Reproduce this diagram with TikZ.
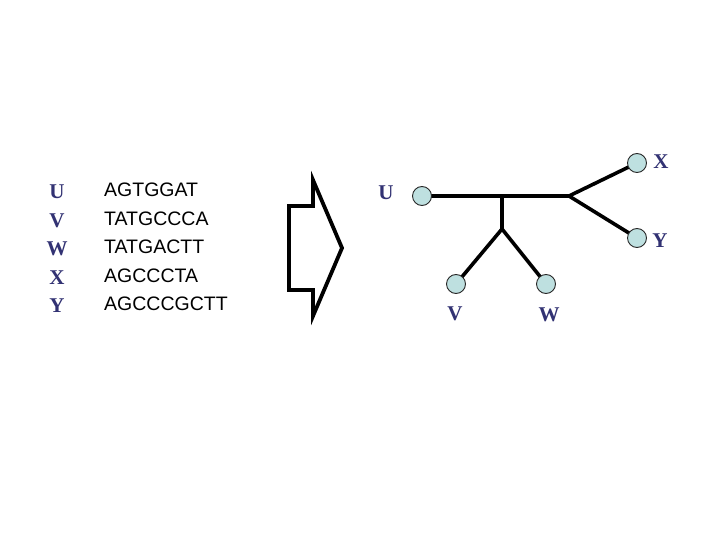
\documentclass[tikz,border=0pt]{standalone}
\usepackage{fontspec}
\setmainfont{Liberation Serif}
\setsansfont{Liberation Sans}
\begin{document}
\begin{tikzpicture}[x=1pt,y=-1pt,
  lbl/.style={font=\fontsize{21}{21}\selectfont\bfseries\rmfamily, text=navy, inner sep=0pt, anchor=center},
  seq/.style={font=\fontsize{19.5}{19.5}\selectfont\sffamily, text=black, inner sep=0pt, anchor=west},
  leaf/.style={circle, draw=leafline, fill=leaffill, line width=0.9pt, minimum size=19pt, inner sep=0pt},
  branch/.style={line width=3.6pt, draw=black}]
\definecolor{navy}{RGB}{50,50,115}
\definecolor{leaffill}{RGB}{190,224,224}
\definecolor{leafline}{RGB}{40,40,40}
\useasboundingbox (0,0) rectangle (720,540);
\fill[white] (0,0) rectangle (720,540);
% left table
\node[lbl] (lU) at (57,192) {U};
\node[lbl] (lV) at (57,220.5) {V};
\node[lbl] (lW) at (57,249) {W};
\node[lbl] (lX) at (57,277.5) {X};
\node[lbl] (lY) at (57,306) {Y};
\node[seq] (sU) at (104,190) {AGTGGAT};
\node[seq] (sV) at (104,218.5) {TATGCCCA};
\node[seq] (sW) at (104,247) {TATGACTT};
\node[seq] (sX) at (104,275.5) {AGCCCTA};
\node[seq] (sY) at (104,304) {AGCCCGCTT};
% big arrow
\draw[line width=3.8pt, line join=miter, miter limit=10]
  (289,206) -- (313,206) -- (313,180) -- (342,248) -- (313,316) -- (313,290) -- (289,290) -- cycle;
% tree
\coordinate (j1) at (502,196);
\coordinate (j2) at (502,229);
\coordinate (j3) at (569,196);
\coordinate (pU) at (422,196);
\coordinate (pV) at (456,284);
\coordinate (pW) at (546,284);
\coordinate (pX) at (637,163);
\coordinate (pY) at (637,238);
\draw[branch] (pU) -- (j3);
\draw[branch] (j1) -- (j2);
\draw[branch] (j2) -- (pV);
\draw[branch] (j2) -- (pW);
\draw[branch] (j3) -- (pX);
\draw[branch] (j3) -- (pY);
\node[leaf] (cU) at (pU) {};
\node[leaf] (cV) at (pV) {};
\node[leaf] (cW) at (pW) {};
\node[leaf] (cX) at (pX) {};
\node[leaf] (cY) at (pY) {};
\node[lbl] (tU) at (386,193) {U};
\node[lbl] (tX) at (661,162) {X};
\node[lbl] (tY) at (660,241) {Y};
\node[lbl] (tV) at (455,314) {V};
\node[lbl] (tW) at (549,315) {W};
\end{tikzpicture}
\end{document}
